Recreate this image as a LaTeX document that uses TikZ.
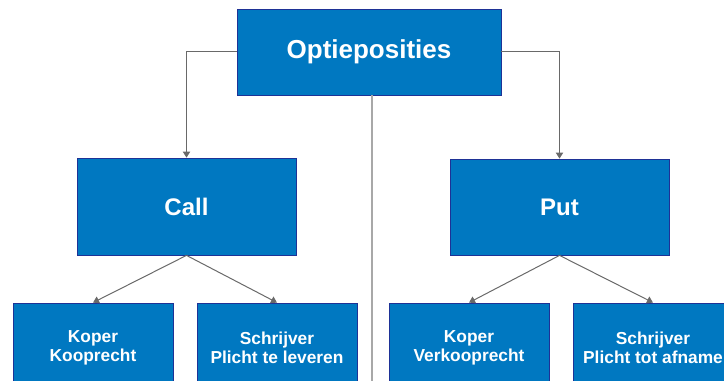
\documentclass[tikz,border=0pt]{standalone}
\usepackage{fontspec}
\setmainfont{Liberation Sans}
\usetikzlibrary{positioning}
\usetikzlibrary{arrows.meta}
\definecolor{boxblue}{RGB}{0,120,193}
\definecolor{boxedge}{RGB}{30,50,150}
\definecolor{linegray}{RGB}{105,105,105}
\definecolor{spinegray}{RGB}{168,168,168}
\begin{document}
\begin{tikzpicture}[x=0.75pt,y=-0.75pt,
    box/.style={draw=boxedge, line width=0.6pt, fill=boxblue, text=white, align=center, inner sep=0pt},
    link/.style={draw=linegray, line width=0.75pt, -{Triangle[length=4.5pt,width=5.5pt]}}]
                % Define the frame
                \useasboundingbox (0,0) rectangle (724,381);
                \coordinate (spine) at (372,381);

                % Define the boxes
                \node[box, minimum width=198pt, minimum height=64.5pt, font=\fontsize{19.5}{22}\bfseries] (top) at (369,52) {Optieposities};
                \node[box, minimum width=164.25pt, minimum height=72.75pt, font=\fontsize{18}{21}\bfseries] (call) at (186.5,206.5) {Call};
                \node[box, minimum width=164.25pt, minimum height=72pt, font=\fontsize{18}{21}\bfseries] (put) at (559.5,207) {Put};

                \foreach \name/\x/\label in {koperc/93/{Koper\\Kooprecht}, schrijverc/277/{Schrijver\\Plicht te leveren}, koperp/469/{Koper\\Verkooprecht}, schrijverp/653/{Schrijver\\Plicht tot afname}}
                    \node[box, minimum width=120pt, minimum height=67.5pt, font=\fontsize{13}{14}\bfseries] (\name) at (\x,348) {\label};

                % Draw the lines
                \draw[spinegray, line width=1.5pt] (top.south -| spine) -- (spine);
                \draw[link] (top.west) -| (call.north);
                \draw[link] (top.east) -| (put.north);
                \draw[link] (call.south) -- (koperc.north);
                \draw[link] (call.south) -- (schrijverc.north);
                \draw[link] (put.south) -- (koperp.north);
                \draw[link] (put.south) -- (schrijverp.north);

            \end{tikzpicture}
\end{document}
